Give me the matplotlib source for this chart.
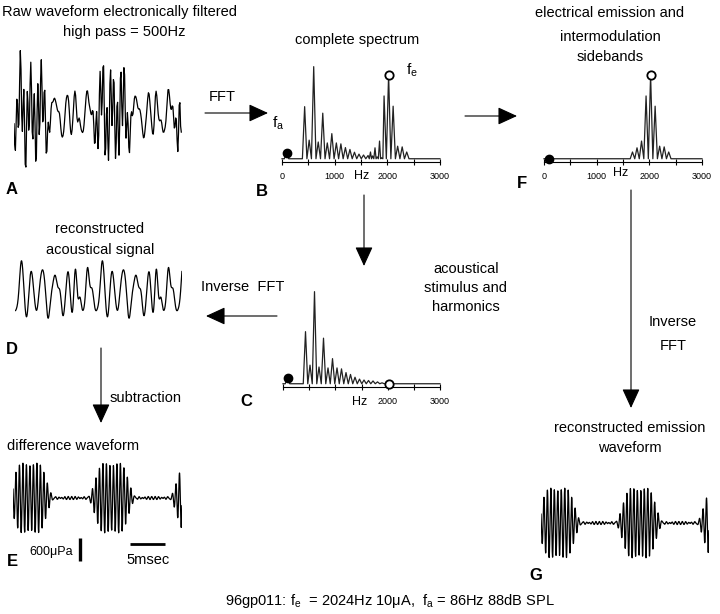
import numpy as np
import matplotlib.pyplot as plt
from matplotlib.patches import FancyArrowPatch

plt.rcParams['font.family'] = ['Liberation Sans', 'DejaVu Sans']
plt.rcParams['mathtext.default'] = 'regular'

W, H = 720, 614

fa = 86      # Hz, acoustic stimulus
fe = 2024    # Hz, electrical stimulus

# acoustical stimulus and harmonics (panel C): Hz, uPa, phase (rad)
acoustic_freq = [86, 430, 516, 602, 688, 774, 860, 946, 1032, 1118, 1204, 1290,
                 1376, 1462, 1548, 1634, 1720, 1806, 1892]
acoustic_amp = [28, 228, 84, 400, 76, 200, 72, 112, 72, 68, 52, 44,
                32, 24, 20, 18, 16, 12, 8]
acoustic_phase = [0, 3.14, 0, 0, 0, 0, 2.5, 1.2, 4.0, 0.6, 3.3, 5.1,
                  1.9, 0.4, 2.8, 4.5, 1.0, 3.6, 0]

# electrical emission and intermodulation sidebands (panel F)
emission_freq = [1680, 1766, 1852, 1938, 2024, 2110, 2196, 2282, 2368]
emission_amp = [33, 51, 80, 274, 365, 230, 58, 55, 33]
emission_phase = [3.14, 3.14, 0, 0, 0, 0, 0, 3.14, 3.14]

t_ms = np.arange(0, 24.0, 0.01)     # reconstruction grid
t_rec = np.arange(0, 24.0, 0.1)     # digitised record (10 kHz)
t_ref = 2.4   # ms


def synth(freqs, amps, phases, t):
    y = np.zeros_like(t)
    for f, a, p in zip(freqs, amps, phases):
        y += a * np.cos(2 * np.pi * f * (t - t_ref) / 1000.0 + p)
    return y


acoustic = synth(acoustic_freq, acoustic_amp, acoustic_phase, t_ms)
emission = synth(emission_freq, emission_amp, emission_phase, t_ms)
raw = (synth(acoustic_freq, acoustic_amp, acoustic_phase, t_rec)
       + synth(emission_freq, emission_amp, emission_phase, t_rec))
difference = (acoustic + emission) - acoustic


def spectrum_trace(freqs, amps, floor=4):
    order = np.argsort(freqs)
    f = np.asarray(freqs, float)[order]
    a = np.asarray(amps, float)[order]
    xs, ys = [0], [floor]
    for i in range(len(f)):
        wl = 43 if i == 0 else min(43, (f[i] - f[i - 1]) / 2)
        wr = 43 if i == len(f) - 1 else min(43, (f[i + 1] - f[i]) / 2)
        xs += [f[i] - wl, f[i], f[i] + wr]
        ys += [floor, a[i], floor]
    xs.append(3000)
    ys.append(floor)
    return xs, ys


fig = plt.figure(figsize=(W / 100, H / 100), dpi=100)


def add_ax(x0, y0, x1, y1):
    ax = fig.add_axes([x0 / W, 1 - y1 / H, (x1 - x0) / W, (y1 - y0) / H])
    ax.set_facecolor('none')
    return ax


def wave_ax(x0, x1, yc, t, y):
    ax = add_ax(x0, yc - 65, x1, yc + 65)
    ax.plot(t, y, color='black', lw=0.9)
    ax.set_xlim(0, 24)
    ax.set_ylim(-1690, 1690)
    ax.axis('off')
    return ax


def spec_ax(x0, x1, yb, freqs, amps, labels):
    ax = add_ax(x0, yb - 110, x1, yb)
    xs, ys = spectrum_trace(freqs, amps)
    ax.plot(xs, ys, color='#222222', lw=0.9, clip_on=False)
    ax.set_xlim(0, 3000)
    ax.set_ylim(-10, 463)
    for s in ['top', 'left', 'right']:
        ax.spines[s].set_visible(False)
    ax.spines['bottom'].set_linewidth(0.8)
    ax.set_yticks([])
    ax.set_xticks([0, 1000, 2000, 3000])
    ax.set_xticklabels(labels)
    ax.set_xticks([500, 1500, 2500], minor=True)
    ax.tick_params(which='both', direction='inout', length=5, width=0.8,
                   labelsize=6.5, pad=5)
    return ax


# waveforms
wave_ax(14, 182, 114, t_rec, raw)
wave_ax(15, 182, 292, t_ms, acoustic)
axE = wave_ax(13, 182, 498, t_ms, difference)
wave_ax(541, 709, 523, t_ms, emission)

# scale bars on E
axE.plot([9.5, 9.5], [-1640, -1040], color='black', lw=2.4, clip_on=False,
         solid_capstyle='butt')
axE.plot([16.6, 21.6], [-1200, -1200], color='black', lw=2.0, clip_on=False,
         solid_capstyle='butt')

# spectra
all_freq = acoustic_freq + emission_freq
all_amp = acoustic_amp + emission_amp
lab = ['0', '1000', '2000', '3000']
axB = spec_ax(282, 440, 162, all_freq, all_amp, lab)
axF = spec_ax(544, 702, 162, emission_freq, emission_amp, lab)
axC = spec_ax(283, 440, 387, acoustic_freq, acoustic_amp, ['', '', '2000', '3000'])

i_fa = acoustic_freq.index(fa)
i_fe = emission_freq.index(fe)
for ax, ya, ye in [(axB, acoustic_amp[i_fa], emission_amp[i_fe]),
                   (axC, acoustic_amp[i_fa], 4),
                   (axF, 4, emission_amp[i_fe])]:
    ax.plot([fa], [ya], 'o', color='black', ms=6, clip_on=False, zorder=4)
    ax.plot([fe], [ye], 'o', mfc='white', mec='black', mew=1.3, ms=6,
            clip_on=False, zorder=4)

# overlay for arrows and text, pixel coordinates
ov = fig.add_axes([0, 0, 1, 1])
ov.set_xlim(0, W)
ov.set_ylim(H, 0)
ov.axis('off')


def arrow(x0, y0, x1, y1):
    ov.add_patch(FancyArrowPatch((x0, y0), (x1, y1),
                                 arrowstyle='-|>,head_length=12,head_width=5.5',
                                 mutation_scale=1, lw=0.8, color='black',
                                 shrinkA=0, shrinkB=0))


arrow(205, 113, 268, 113)
arrow(465, 116, 517, 116)
arrow(364, 195, 364, 266)
arrow(277, 316, 206, 316)
arrow(101, 348, 101, 423)
arrow(631, 190, 631, 408)

fs = 10.5
texts = [
    (119, 12, 'Raw waveform electronically filtered'),
    (124, 32, 'high pass = 500Hz'),
    (222, 97, 'FFT'),
    (357, 40, 'complete spectrum'),
    (610, 13, 'electrical emission and'),
    (610, 37, 'intermodulation'),
    (610, 57, 'sidebands'),
    (100, 229, 'reconstructed'),
    (100, 250, 'acoustical signal'),
    (466, 269, 'acoustical'),
    (466, 288, 'stimulus and'),
    (466, 307, 'harmonics'),
    (243, 287, 'Inverse  FFT'),
    (673, 322, 'Inverse'),
    (673, 346, 'FFT'),
    (630, 428, 'reconstructed emission'),
    (630, 448, 'waveform'),
    (148, 560, '5msec'),
]
for x, y, s in texts:
    ov.text(x, y, s, ha='center', va='center', fontsize=fs)

ov.text(110, 398, 'subtraction', ha='left', va='center', fontsize=fs)
ov.text(7, 446, 'difference waveform', ha='left', va='center', fontsize=fs)
ov.text(73, 552, '600μPa', ha='right', va='center', fontsize=9)
ov.text(278, 123, r'f$_a$', ha='center', va='center', fontsize=11)
ov.text(412, 70, r'f$_e$', ha='center', va='center', fontsize=11)
ov.text(390, 601,
        r'96gp011: f$_e$  = 2024Hz 10μA,  f$_a$ = 86Hz 88dB SPL',
        ha='center', va='center', fontsize=fs)

for x, y in [(362, 176), (621, 173), (360, 402)]:
    ov.text(x, y, 'Hz', ha='center', va='center', fontsize=9)

for x, y, s in [(12, 189, 'A'), (262, 191, 'B'), (522, 183, 'F'),
                (246, 402, 'C'), (12, 350, 'D'), (12, 562, 'E'),
                (536, 576, 'G')]:
    ov.text(x, y, s, ha='center', va='center', fontsize=12, fontweight='bold')

fig.savefig('out.png', dpi=100)
